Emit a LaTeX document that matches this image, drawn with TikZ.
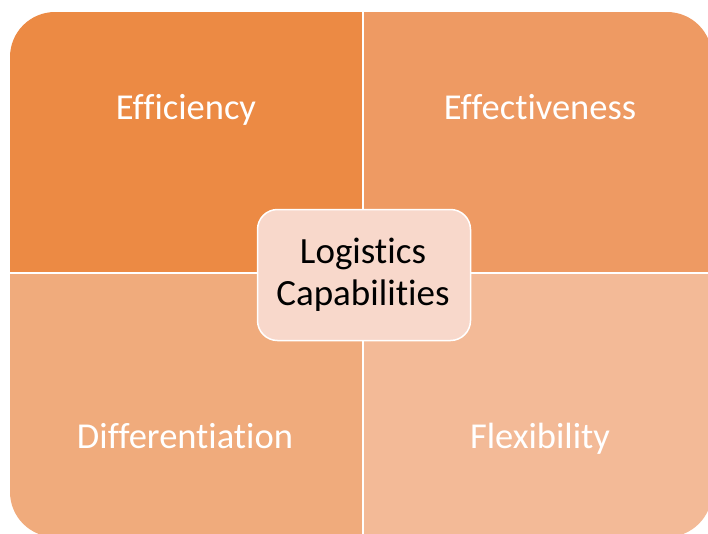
\documentclass[tikz,border=0pt]{standalone}
\usepackage{fontspec}
\setmainfont{Carlito}[Ligatures={NoCommon}]
\definecolor{qtl}{HTML}{EC8A44}
\definecolor{qtr}{HTML}{EE9A63}
\definecolor{qbl}{HTML}{F0AB7C}
\definecolor{qbr}{HTML}{F3BA97}
\definecolor{core}{HTML}{F8D8CB}
\tikzset{
  quadlabel/.style={text=white, font=\fontsize{36.5}{44}\selectfont, inner sep=0pt, anchor=base},
  corebox/.style={fill=core, draw=white, line width=1.5pt, rounded corners=20pt,
    minimum width=213pt, minimum height=131pt},
  coretext/.style={align=center, font=\fontsize{37}{44}\selectfont, text=black,
    inner sep=0pt, anchor=base}
}
\begin{document}
\begin{tikzpicture}[x=1pt, y=-1pt]
  \useasboundingbox (0,0) rectangle (708,533);
  \begin{scope}
    \clip[rounded corners=45pt] (10,12) rectangle (712,537);
    \fill[qtl] (10,12) rectangle (363,273);
    \fill[qtr] (363,12) rectangle (712,273);
    \fill[qbl] (10,273) rectangle (363,537);
    \fill[qbr] (363,273) rectangle (712,537);
    \draw[white, line width=2pt] (363,12) -- (363,537);
    \draw[white, line width=2pt] (10,273) -- (712,273);
  \end{scope}
  \node[quadlabel] (eff) at (186,119) {Efficiency};
  \node[quadlabel] (effv) at (540,119) {Effectiveness};
  \node[quadlabel] (diff) at (185,448) {Differentiation};
  \node[quadlabel] (flex) at (540,448) {Flexibility};
  \node[corebox] (core) at (364,275) {};
  \node[coretext] (corea) at (363,263) {Logistics};
  \node[coretext] (coreb) at (363,305) {Capabilities};
\end{tikzpicture}
\end{document}
